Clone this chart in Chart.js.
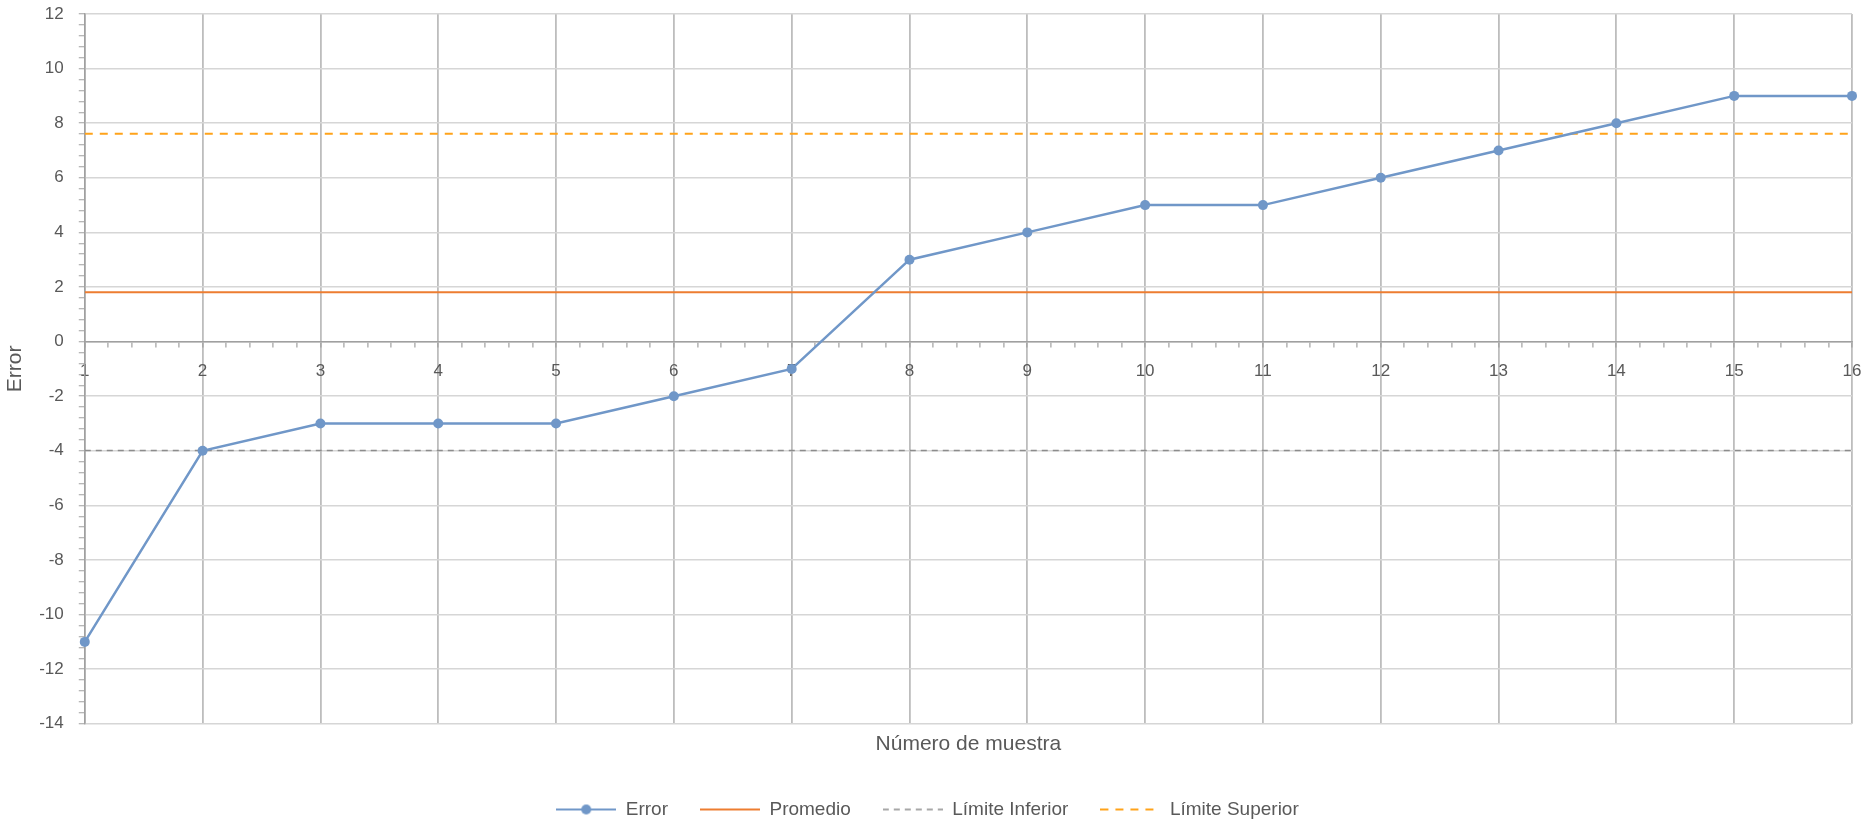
<!DOCTYPE html>
<html>
<head>
<meta charset="utf-8">
<script src="https://cdn.jsdelivr.net/npm/chart.js@4.4.1/dist/chart.umd.min.js"></script>
<style>
  html, body { margin: 0; padding: 0; background: #ffffff; }
  #wrap { width: 1872px; height: 823px; }
</style>
</head>
<body>
<div id="wrap"><canvas id="c" width="1872" height="823"></canvas></div>
<script>
// ---- Data ----
const categories = ['1','2','3','4','5','6','7','8','9','10','11','12','13','14','15','16'];
const errorValues = [-11, -4, -3, -3, -3, -2, -1, 3, 4, 5, 5, 6, 7, 8, 9, 9];
const promedioValues = [1.81, 1.81, 1.81, 1.81, 1.81, 1.81, 1.81, 1.81, 1.81, 1.81, 1.81, 1.81, 1.81, 1.81, 1.81, 1.81];
const limiteInferiorValues = [-3.99, -3.99, -3.99, -3.99, -3.99, -3.99, -3.99, -3.99, -3.99, -3.99, -3.99, -3.99, -3.99, -3.99, -3.99, -3.99];
const limiteSuperiorValues = [7.61, 7.61, 7.61, 7.61, 7.61, 7.61, 7.61, 7.61, 7.61, 7.61, 7.61, 7.61, 7.61, 7.61, 7.61, 7.61];
const seriesNames = ['Error', 'Promedio', 'Límite Inferior', 'Límite Superior'];
const yTickMin = -14, yTickMax = 12, yMajorStep = 2;
const xTitle = 'Número de muestra';
const yTitle = 'Error';

// ---- Styles ----
const COL_ERR = '#7097c8';
const COL_PROM = '#ed7d31';
const COL_INF = '#8c8c8c';
const COL_SUP = '#ffa31a';
const TXT = '#595959';
const FONT = "'Liberation Sans', Arial, sans-serif";

const toPts = vals => vals.map((v, i) => ({ x: Number(categories[i]), y: v }));

function legendImg(color, dash, width, marker) {
  const cv = document.createElement('canvas');
  cv.width = 60; cv.height = 14;
  const g = cv.getContext('2d');
  g.strokeStyle = color; g.lineWidth = width;
  g.setLineDash(dash);
  g.beginPath(); g.moveTo(0, 7); g.lineTo(60, 7); g.stroke();
  if (marker) {
    g.setLineDash([]);
    g.fillStyle = color;
    g.beginPath(); g.arc(30, 7, 5, 0, Math.PI * 2); g.fill();
  }
  return cv;
}

const near = (v, s) => Math.abs(v / s - Math.round(v / s)) < 1e-6;

const datasets = [
  { label: seriesNames[0], data: toPts(errorValues), borderColor: COL_ERR, backgroundColor: COL_ERR,
    borderWidth: 2.5, pointRadius: 5, pointHoverRadius: 5, pointBorderWidth: 0, clip: false,
    legendImage: legendImg(COL_ERR, [], 2, true), order: 0 },
  { label: seriesNames[1], data: toPts(promedioValues), borderColor: COL_PROM, backgroundColor: COL_PROM,
    borderWidth: 2, pointRadius: 0, legendImage: legendImg(COL_PROM, [], 2, false), order: 1 },
  { label: seriesNames[2], data: toPts(limiteInferiorValues), borderColor: COL_INF, backgroundColor: COL_INF,
    borderWidth: 1.5, borderDash: [6, 5], pointRadius: 0, legendImage: legendImg(COL_INF, [6, 5], 1.5, false), order: 2 },
  { label: seriesNames[3], data: toPts(limiteSuperiorValues), borderColor: COL_SUP, backgroundColor: COL_SUP,
    borderWidth: 2, borderDash: [8, 7], pointRadius: 0, legendImage: legendImg(COL_SUP, [8, 7], 2, false), order: 3 }
];

new Chart(document.getElementById('c'), {
  type: 'line',
  data: { datasets },
  options: {
    responsive: false,
    animation: false,
    devicePixelRatio: 1,
    layout: { padding: { left: 3, right: 20, top: 14, bottom: -6 } },
    scales: {
      x: {
        type: 'linear',
        position: { y: 0 },
        min: Number(categories[0]),
        max: Number(categories[categories.length - 1]),
        ticks: {
          stepSize: 0.2, autoSkip: false, maxRotation: 0, padding: 0,
          color: TXT, font: { family: FONT, size: 17 },
          callback: v => near(v, 1) ? categories[Math.round(v) - 1] : ''
        },
        grid: {
          color: c => near(c.tick.value, 1) ? '#bdbdbd' : 'rgba(0,0,0,0)',
          lineWidth: 1.8, tickColor: '#a0a0a0', tickLength: 20, tickWidth: 1.2,
          tickBorderDash: [5, 100]
        },
        border: { color: '#a0a0a0', width: 1.5 }
      },
      xT: {
        type: 'linear',
        position: 'bottom',
        min: 1, max: 16,
        ticks: { display: false },
        grid: { display: false },
        border: { display: false },
        title: { display: true, text: xTitle, color: TXT, font: { family: FONT, size: 21 }, padding: { top: 0, bottom: 11 } }
      },
      y: {
        type: 'linear',
        min: yTickMin, max: yTickMax,
        ticks: {
          stepSize: 0.4, autoSkip: false, padding: 1,
          color: TXT, font: { family: FONT, size: 17 },
          callback: v => near(v, yMajorStep) ? String(Math.round(v)) : ''
        },
        grid: {
          color: c => near(c.tick.value, yMajorStep) ? '#d6d6d6' : 'rgba(0,0,0,0)',
          lineWidth: 1.5, tickColor: '#a0a0a0', tickLength: 20, tickWidth: 1.2,
          tickBorderDash: [0, 14, 6]
        },
        border: { color: '#a0a0a0', width: 1.5 },
        title: { display: true, text: yTitle, color: TXT, font: { family: FONT, size: 21 }, padding: { top: 0, bottom: 10 } }
      }
    },
    plugins: {
      legend: {
        position: 'bottom',
        labels: {
          usePointStyle: true, pointStyleWidth: 60, padding: 32,
          color: TXT, font: { family: FONT, size: 19 },
          generateLabels: chart => chart.data.datasets.map((d, i) => ({
            text: d.label, fillStyle: d.borderColor, strokeStyle: d.borderColor, fontColor: TXT,
            lineWidth: 0, hidden: false, datasetIndex: i, pointStyle: d.legendImage
          }))
        }
      },
      tooltip: { enabled: false }
    }
  }
});
</script>
</body>
</html>
